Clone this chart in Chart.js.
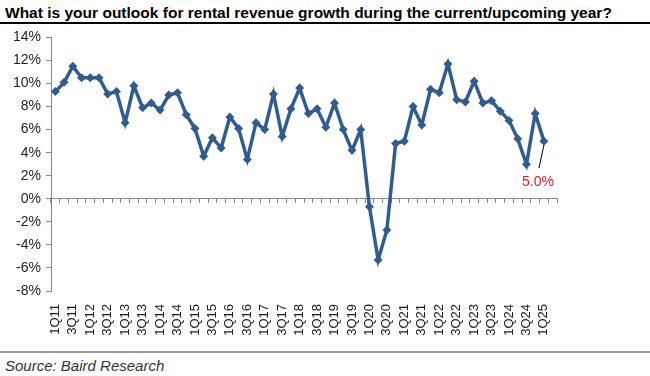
<!DOCTYPE html>
<html><head><meta charset="utf-8">
<script src="https://cdn.jsdelivr.net/npm/chart.js@4/dist/chart.umd.min.js"></script>
<style>
html,body{margin:0;padding:0;background:#fff;}
#wrap{position:relative;width:650px;height:376px;overflow:hidden;background:#fff;}
#title{position:absolute;left:5px;top:4px;font:bold 15px "Liberation Sans",Arial,sans-serif;color:#000;white-space:nowrap;}
#rule{position:absolute;left:0;top:22px;width:650px;height:2px;background:#000;}
#cw{position:absolute;left:0;top:24px;width:650px;height:326px;}
#bottomRule{position:absolute;left:0;top:351px;width:650px;height:2px;background:#9a9a9a;}
#source{position:absolute;left:5px;top:357px;font:italic 15px "Liberation Sans",Arial,sans-serif;color:#333;white-space:nowrap;}
</style>
</head>
<body>
<div id="wrap">
  <div id="title">What is your outlook for rental revenue growth during the current/upcoming year?</div>
  <div id="rule"></div>
  <div id="cw"><canvas id="c" width="650" height="326"></canvas></div>
  <div id="bottomRule"></div>
  <div id="source">Source: Baird Research</div>
</div>
<script>
// ---- data ----
const quarters = [
  '1Q11','2Q11','3Q11','4Q11','1Q12','2Q12','3Q12','4Q12',
  '1Q13','2Q13','3Q13','4Q13','1Q14','2Q14','3Q14','4Q14',
  '1Q15','2Q15','3Q15','4Q15','1Q16','2Q16','3Q16','4Q16',
  '1Q17','2Q17','3Q17','4Q17','1Q18','2Q18','3Q18','4Q18',
  '1Q19','2Q19','3Q19','4Q19','1Q20','2Q20','3Q20','4Q20',
  '1Q21','2Q21','3Q21','4Q21','1Q22','2Q22','3Q22','4Q22',
  '1Q23','2Q23','3Q23','4Q23','1Q24','2Q24','3Q24','4Q24',
  '1Q25','2Q25'
];
const rentalGrowth = [
  9.3, 10.1, 11.5, 10.5, 10.5, 10.5, 9.1, 9.3,
  6.6, 9.8, 7.9, 8.3, 7.7, 9.0, 9.2, 7.3,
  6.1, 3.7, 5.3, 4.4, 7.1, 6.1, 3.4, 6.6,
  6.0, 9.1, 5.4, 7.8, 9.6, 7.4, 7.8, 6.2,
  8.3, 6.0, 4.2, 6.0, -0.7, -5.3, -2.7, 4.8,
  5.0, 8.0, 6.4, 9.5, 9.2, 11.7, 8.6, 8.4,
  10.2, 8.3, 8.5, 7.6, 6.8, 5.2, 3.0, 7.4,
  5.0, null
];
const yMin = -8, yMax = 14, yStep = 2;
const calloutIndex = 56;
const calloutText = '5.0%';

// fit title width
const t = document.getElementById('title');
t.style.fontSize = (15 * 608 / t.offsetWidth) + 'px';

Chart.defaults.font.family = '"Liberation Sans", Arial, sans-serif';

const calloutPlugin = {
  id: 'callout',
  afterDatasetsDraw(chart) {
    const pt = chart.getDatasetMeta(0).data[calloutIndex];
    const ctx = chart.ctx;
    ctx.save();
    ctx.strokeStyle = '#000';
    ctx.lineWidth = 1;
    ctx.beginPath();
    ctx.moveTo(pt.x, pt.y + 4);
    ctx.lineTo(pt.x - 5, pt.y + 27);
    ctx.stroke();
    ctx.fillStyle = '#d7232d';
    ctx.font = '14px "Liberation Sans", Arial, sans-serif';
    ctx.textAlign = 'center';
    ctx.textBaseline = 'middle';
    ctx.fillText(calloutText, pt.x - 6, pt.y + 41);
    ctx.restore();
  }
};

new Chart(document.getElementById('c'), {
  type: 'line',
  data: {
    labels: quarters,
    datasets: [{
      data: rentalGrowth,
      xAxisID: 'x',
      yAxisID: 'y',
      borderColor: '#2f5d8f',
      backgroundColor: '#2f5d8f',
      borderWidth: 3.5,
      pointStyle: 'rectRot',
      pointRadius: 4.5,
      pointBorderWidth: 0,
      tension: 0,
      spanGaps: false
    }]
  },
  options: {
    responsive: false,
    animation: false,
    events: [],
    layout: { padding: { top: 12, right: 93, left: 0, bottom: 0 } },
    plugins: { legend: { display: false }, tooltip: { enabled: false } },
    scales: {
      x: {
        type: 'category',
        position: { y: 0 },
        offset: true,
        grid: { display: true, drawOnChartArea: false, drawTicks: true, tickLength: 4, color: '#888', offset: true },
        border: { display: true, color: '#888', width: 1 },
        ticks: { display: false, autoSkip: false },
        afterFit(s) { s.height = 0; }
      },
      x2: {
        type: 'category',
        position: 'bottom',
        offset: true,
        min: quarters[0],
        max: quarters[quarters.length - 1],
        grid: { display: false, drawTicks: false },
        border: { display: false },
        ticks: {
          autoSkip: false, maxRotation: 90, minRotation: 90, padding: 13,
          font: { size: 13 }, color: '#1a1a1a',
          callback: (v, i) => (i % 2 === 0 ? quarters[i] : '')
        },
        afterFit(s) { s.height = 59; }
      },
      y: {
        min: yMin, max: yMax,
        ticks: { stepSize: yStep, callback: v => v + '%', font: { size: 14 }, color: '#222', padding: 5 },
        grid: { drawOnChartArea: false, drawTicks: true, tickLength: 5, color: '#888' },
        border: { color: '#888', width: 1 },
        afterFit(s) { s.width = 51; }
      }
    }
  },
  plugins: [calloutPlugin]
});
</script>
</body></html>
